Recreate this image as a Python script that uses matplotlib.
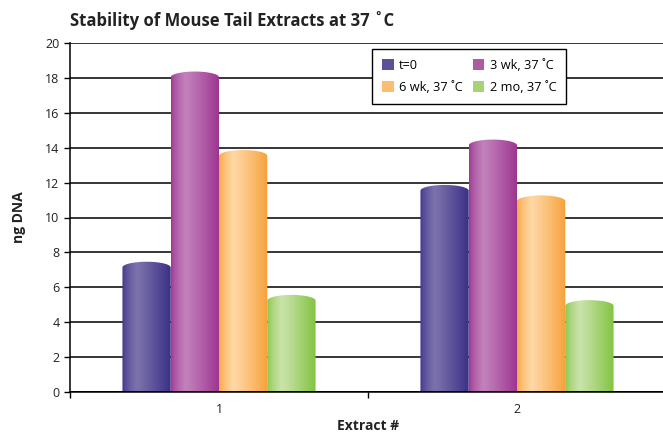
import numpy as np
import matplotlib
matplotlib.use('Agg')
import matplotlib.pyplot as plt
from matplotlib.path import Path
from matplotlib.patches import PathPatch, Patch
from matplotlib.colors import to_rgb

plt.rcParams['font.family'] = ['Open Sans', 'DejaVu Sans']

# data
extracts = ['1', '2']
series = ['t=0', '3 wk, 37 ˚C', '6 wk, 37 ˚C', '2 mo, 37 ˚C']
t0 = [7.3, 11.7]
wk3 = [18.2, 14.3]
wk6 = [13.7, 11.1]
mo2 = [5.4, 5.1]

# dark edge / light highlight per series
darkCols = ['#3a2f86', '#9c3390', '#f7a13a', '#82c341']
lightCols = ['#7c73ad', '#c282ba', '#fed8a6', '#cae3aa']

values = [t0, wk3, wk6, mo2]

fig = plt.figure(figsize=(6.63, 4.33), dpi=100)
ax = fig.add_axes([70/663, 41/433, 596/663, 349/433])

x = np.arange(1, len(extracts) + 1)
barW = 0.162
capH = 0.33  # half height of the top ellipse, data units

# horizontal shading profile of a cylinder
tt = np.linspace(0, 1, 200)
prof = np.where(tt < 0.3, (tt / 0.3) ** 0.6, 1 - ((tt - 0.3) / 0.7) ** 1.1)

for i, vals in enumerate(values):
    offs = (i - 1.5) * barW
    bars = ax.bar(x + offs, vals, width=barW, color='none', edgecolor='none')
    d = np.array(to_rgb(darkCols[i]))
    l = np.array(to_rgb(lightCols[i]))
    img = d[None, :] + prof[:, None] * (l - d)[None, :]
    img = img[None, :, :]
    for r in bars:
        x0 = r.get_x()
        w = r.get_width()
        h = r.get_height() - capH / 2
        th = np.linspace(0, np.pi, 40)
        arcX = x0 + w / 2 + w / 2 * np.cos(th)
        arcY = h + capH * np.sin(th)
        verts = [(x0, 0), (x0 + w, 0)] + list(zip(arcX, arcY)) + [(x0, 0)]
        codes = [Path.MOVETO] + [Path.LINETO] * (len(verts) - 2) + [Path.CLOSEPOLY]
        clip = PathPatch(Path(verts, codes), transform=ax.transData, facecolor='none', edgecolor='none')
        ax.add_patch(clip)
        im = ax.imshow(img, extent=(x0, x0 + w, -0.05, h + capH), aspect='auto',
                       interpolation='bilinear', zorder=2)
        im.set_clip_path(clip)

ax.set_xlim(0.5, 2.5)
ax.set_ylim(0, 20)
ax.set_yticks(np.arange(0, 21, 2))
ax.yaxis.grid(True, color='black', linewidth=1.1)
ax.set_axisbelow(True)
ax.axhline(0, color='black', linewidth=1.2, zorder=4)

ax.set_xticks([0.5, 1.5, 2.5])
ax.set_xticklabels(['', '', ''])
ax.set_xticks(x, minor=True)
ax.set_xticklabels(extracts, minor=True)
ax.tick_params(axis='x', which='major', length=4, width=1, direction='out')
ax.tick_params(axis='x', which='minor', length=0, pad=8, labelsize=9, colors='#222222')
ax.tick_params(axis='y', length=4, width=1, direction='out', labelsize=9, labelcolor='#222222')

for s in ['top', 'right']:
    ax.spines[s].set_visible(False)
ax.spines['left'].set_linewidth(1.1)
ax.spines['bottom'].set_linewidth(1.1)

ax.set_ylabel('ng DNA', fontsize=10, fontweight='bold', color='#222222', labelpad=14)
ax.set_xlabel('Extract #', fontsize=10, fontweight='bold', color='#222222', labelpad=2)
fig.text(70/663, 1 - 20/433, 'Stability of Mouse Tail Extracts at 37 ˚C', fontsize=12,
         fontweight='bold', color='#222222', va='center', ha='left')

mid = [tuple((np.array(to_rgb(darkCols[i])) + np.array(to_rgb(lightCols[i]))) / 2) for i in range(4)]
handles = [Patch(facecolor=mid[i], edgecolor='none', label=series[i]) for i in range(4)]
order = [0, 2, 1, 3]
leg = ax.legend([handles[i] for i in order], [series[i] for i in order], ncol=2,
                loc='upper left', bbox_to_anchor=(0.507, 0.983), borderaxespad=0,
                fancybox=False, edgecolor='black', framealpha=1, fontsize=9.2,
                handlelength=0.9, handleheight=0.9, handletextpad=0.4, columnspacing=0.8,
                borderpad=0.8, labelspacing=0.7)
leg.get_frame().set_linewidth(1.0)
leg.set_zorder(5)

fig.savefig('out.png', dpi=100)
